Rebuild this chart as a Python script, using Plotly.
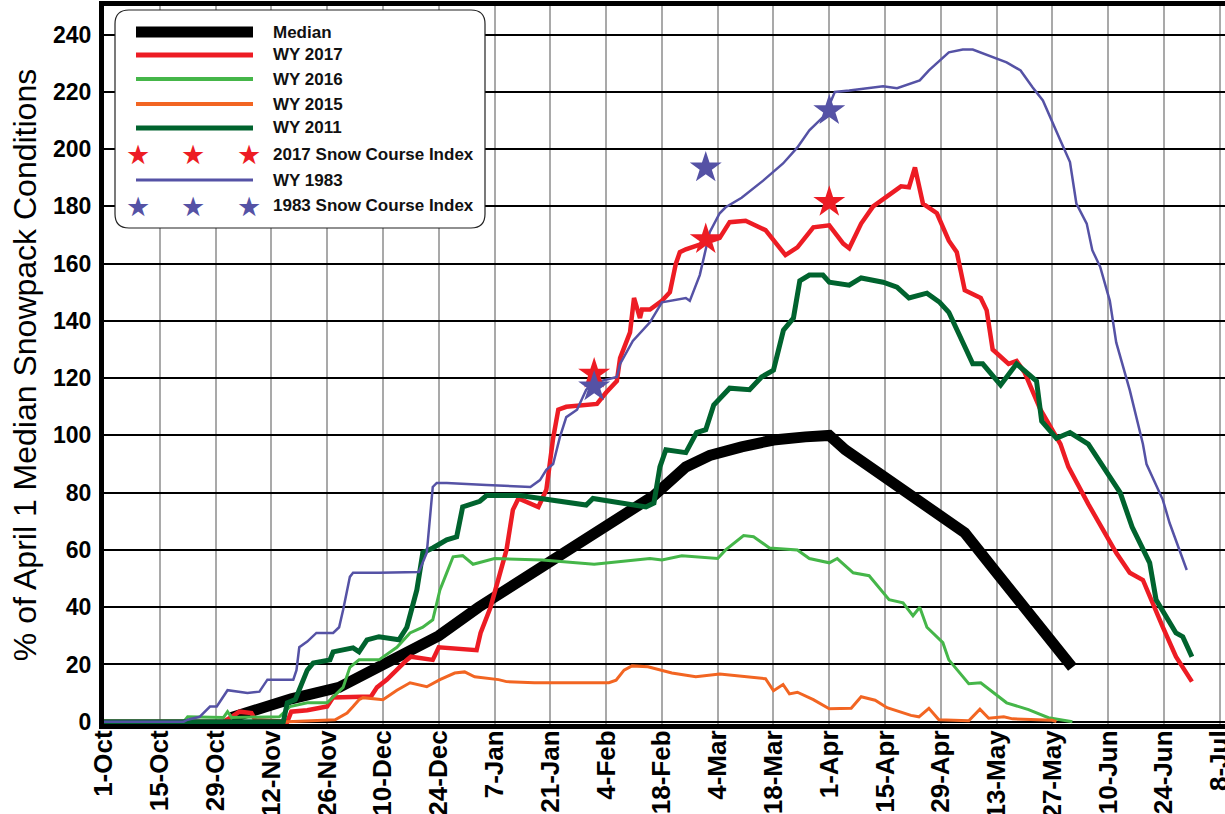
import pandas as pd
import plotly.graph_objects as go

# ---------------- data (day offsets from 1-Oct, % of April 1 median) ----------------
median_day = [32, 40, 47, 59, 71, 84, 94, 105, 116, 129, 138, 146, 152, 160, 168, 176, 182,
              186, 197, 207, 212, 216, 224, 232, 243]
median_val = [1.5, 5, 8, 12, 20.5, 30, 40, 50, 60, 71, 79, 89, 93, 96, 98.4, 99.5, 100,
              95, 84.5, 75, 70.5, 66, 52, 38, 19]

wy2017_day = [0, 30, 32, 34, 37, 38, 46, 47, 51, 56, 57.5, 67, 68.5, 71, 76, 77, 82.5, 84, 93.5,
              94.5, 97, 101, 102.6, 104, 109, 111, 112.7, 114, 116, 123.7, 126, 128.7, 129.5, 131,
              132, 133, 134.5, 135, 137, 140, 142, 143.5, 144.5, 146, 150, 154.5, 157, 161, 166,
              171, 174, 178, 182, 185.5, 187, 190, 193, 197, 200, 202, 203.5, 205.5, 209, 212,
              214, 216, 220, 221.5, 223, 227, 229, 231, 235, 240, 242, 247, 250.6, 254, 257.4,
              260.7, 265.7, 269, 273]
wy2017_val = [0, 0, 1.7, 3.5, 3, 0.5, 0, 3.5, 4, 5.3, 8.5, 8.8, 12, 14.7, 21.6, 22.7, 21.6, 26, 25,
              31, 40, 60, 74, 78, 75, 81, 99, 109, 110, 111, 115, 119, 127, 132,
              136, 148, 141, 144, 144, 147, 150, 160, 164, 165, 167, 169, 174.5, 175, 171.7,
              163, 165.7, 172.7, 173.4, 167, 165.4, 174, 180, 184, 187, 186.7, 193.6, 181, 177.6, 168,
              164, 150.7, 148, 143.7, 130, 125, 126, 122, 109, 97, 89, 76, 67, 59, 52,
              49.5, 33, 22.7, 14]

wy2016_day = [0, 20, 21, 28, 30, 31, 32, 44, 46.7, 51, 56, 58.5, 60, 61.7, 64, 69, 73.5, 76.8, 80,
              82.5, 84.3, 86, 87.6, 90, 92.6, 98, 110, 123, 131, 137, 140, 145, 154, 156, 160.5,
              163, 167, 174, 177, 182, 184, 188, 192, 197, 200.5, 203, 204.7, 206.5, 210.5, 212,
              217, 220, 226.5, 232, 237, 243]
wy2016_val = [0, 0, 1.7, 1.5, 1.5, 3.5, 1.5, 1.7, 5.3, 6.6, 6.6, 10, 12, 19, 21.6, 21.6, 26, 31, 33,
              35.6, 46, 52, 57.6, 58, 55, 57, 56.5, 55, 56, 57, 56.5, 58, 57, 60, 65,
              64.6, 60.7, 60, 57, 55.5, 57, 52, 51, 42.6, 41.5, 37, 40, 33, 27.6, 21.6,
              13.3, 13.6, 6.6, 4.2, 1.4, 0]

wy2015_day = [0, 46, 58, 61, 62.5, 64, 65, 70, 73.5, 76.8, 81, 84.3, 88, 90.5, 93, 95, 99, 101,
              108, 118.7, 126.7, 128.5, 130.5, 132.5, 136.5, 142.5, 148.5, 154.5, 159, 166, 168,
              170.4, 172, 174, 178, 182, 187.5, 190, 193.5, 196.5, 202.5, 204.5, 207, 209.5, 217,
              219.8, 222, 225.8, 228, 238, 239]
wy2015_val = [0, 0, 0.7, 3, 5.3, 7.7, 8.4, 7.7, 11, 13.6, 12.2, 14.7, 17, 17.4, 15.7, 15.3, 14.7, 14,
              13.6, 13.6, 13.6, 14.5, 18, 19.5, 19.2, 17, 15.7, 16.7, 16, 15, 10.8,
              13, 9.7, 10.3, 7.7, 4.5, 4.7, 8.7, 7.5, 4.9, 2.2, 1.7, 4.7, 0.7, 0.3,
              4.4, 1.2, 1.7, 1, 0.5, 0]

wy2011_day = [0, 45, 46, 48, 51, 52.5, 56.7, 57.5, 62.5, 64, 66, 69, 74, 76, 78.5, 80, 82.5, 86,
              88.5, 90, 94.3, 96, 104.4, 112.6, 121, 122.7, 129.5, 136, 138, 139.5, 141, 146,
              148.7, 151, 153, 157, 162, 165, 168, 170.5, 173, 174.6, 177, 180.4, 182, 187, 190,
              195.5, 199, 202, 206.5, 209.7, 212, 215.5, 218, 220.5, 225, 229, 234, 235.3, 239,
              242.4, 247, 255, 258, 262.4, 264, 269, 270.7, 273]
wy2011_val = [0, 0, 6.6, 7.7, 18, 20.5, 21.6, 24.4, 25.8, 24.4, 28.6, 29.7, 28.6, 33, 46, 59, 60.7, 63.5,
              64.6, 75, 77, 79, 79, 77.5, 75.7, 78, 76.4, 75, 76.4, 89, 95, 94,
              101, 102, 110.6, 116.5, 116, 120.4, 122.8, 136.8, 141, 154, 156, 156, 153.5, 152.5, 155,
              153.5, 151.8, 148, 149.7, 146.5, 143, 132, 125, 125, 117.6, 125, 119, 105, 99,
              101, 97, 80, 68, 55.5, 42.6, 31, 29.7, 22.7]

wy1983_day = [0, 20, 21, 24, 26.6, 28.3, 31, 36, 39, 41, 47.5, 48.3, 49, 51, 53.3, 57.5, 59, 60,
              61.7, 62.5, 69, 76, 79, 81, 82.5, 83.5, 86, 96, 107, 109.4, 111, 112.7, 114.4, 116,
              118.7, 121, 122.7, 128.7, 129.5, 132.7, 137, 140, 146, 147, 149.5, 151, 152, 154.5,
              156, 160, 165.4, 170.4, 174, 177, 181, 183.4, 187, 195.5, 199, 204.7, 207, 212,
              215.5, 218, 222, 226.5, 230, 233, 235.6, 238, 240, 242.4, 244, 246.6, 248, 250,
              252.4, 254, 257.4, 260.7, 261.6, 265.7, 267.4, 271.7]
wy1983_val = [0, 0, 0.7, 1.7, 5.3, 5.3, 11, 10, 10.5, 14.7, 14.7, 18, 26, 28, 31, 31, 33, 39,
              50.6, 52, 52, 52.3, 52.3, 59, 82, 83.4, 83.4, 82.7, 82, 84.4, 88, 90, 99.4, 106.4,
              109, 116, 118.3, 120.4, 125, 133, 139.5, 146.5, 148, 147, 156, 165, 171, 177.6,
              179.7, 183, 189, 195, 200.6, 206.6, 212, 220, 220.5, 222, 221.3, 224, 227.5, 233.8,
              234.8, 234.8, 232.7, 230.3, 227.5, 221.6, 217, 209, 203, 195.5, 181, 174, 164.7, 158.8,
              147, 132.5, 115.8, 97, 90, 77.5, 69.4, 53]

sci2017_day = [123, 151, 182]
sci2017_val = [121.5, 168.5, 181.5]
sci1983_day = [123, 151, 182]
sci1983_val = [117, 193.5, 213.5]

tick_labels = ["1-Oct", "15-Oct", "29-Oct", "12-Nov", "26-Nov", "10-Dec", "24-Dec", "7-Jan",
               "21-Jan", "4-Feb", "18-Feb", "4-Mar", "18-Mar", "1-Apr", "15-Apr", "29-Apr",
               "13-May", "27-May", "10-Jun", "24-Jun", "8-Jul"]
y_ticks = [0, 20, 40, 60, 80, 100, 120, 140, 160, 180, 200, 220, 240]

# ---------------- helpers ----------------
base = pd.Timestamp("2016-10-01")


def dates(days):
    return base + pd.to_timedelta(days, unit="D")


RED = "#ed1c24"
LGREEN = "#45b649"
ORANGE = "#f26522"
DGREEN = "#00632e"
PURPLE = "#5552a5"
BLACK = "#000000"

W, H = 1225, 814
ML, MR, MT, MB = 104, 0, 6, 90

fig = go.Figure()

series = [
    ("Median", median_day, median_val, BLACK, 11),
    ("WY 2017", wy2017_day, wy2017_val, RED, 4.5),
    ("WY 2016", wy2016_day, wy2016_val, LGREEN, 3),
    ("WY 2015", wy2015_day, wy2015_val, ORANGE, 3),
    ("WY 2011", wy2011_day, wy2011_val, DGREEN, 5),
    ("WY 1983", wy1983_day, wy1983_val, PURPLE, 2.5),
]
for name, d, v, c, w in series:
    fig.add_trace(go.Scatter(x=dates(d), y=v, mode="lines", name=name,
                             line=dict(color=c, width=w), showlegend=False,
                             hoverinfo="skip"))

fig.add_trace(go.Scatter(x=dates(sci2017_day), y=sci2017_val, mode="markers",
                         name="2017 Snow Course Index", showlegend=False,
                         marker=dict(symbol="star", size=24, color=RED, line=dict(width=0))))
fig.add_trace(go.Scatter(x=dates(sci1983_day), y=sci1983_val, mode="markers",
                         name="1983 Snow Course Index", showlegend=False,
                         marker=dict(symbol="star", size=24, color=PURPLE, line=dict(width=0))))

# ---------------- custom legend (paper coords) ----------------
pw = W - ML - MR
ph = H - MT - MB


def px(xp):
    return (xp - ML) / pw


def py(yp):
    return (H - MB - yp) / ph


x0, x1, y0, y1 = px(115), px(485), py(228), py(10)
rx, ry = 14 / pw, 14 / ph
path = (f"M {x0+rx},{y1} L {x1-rx},{y1} Q {x1},{y1} {x1},{y1-ry} L {x1},{y0+ry} "
        f"Q {x1},{y0} {x1-rx},{y0} L {x0+rx},{y0} Q {x0},{y0} {x0},{y0+ry} "
        f"L {x0},{y1-ry} Q {x0},{y1} {x0+rx},{y1} Z")
shapes = [dict(type="path", xref="paper", yref="paper", path=path,
               line=dict(color="#222222", width=1.2), fillcolor="white", layer="above")]

legend_rows = [
    ("Median", "line", BLACK, 11, 32),
    ("WY 2017", "line", RED, 5, 55),
    ("WY 2016", "line", LGREEN, 4, 79),
    ("WY 2015", "line", ORANGE, 4, 104),
    ("WY 2011", "line", DGREEN, 5, 128),
    ("2017 Snow Course Index", "star", RED, 0, 154),
    ("WY 1983", "line", PURPLE, 3, 180),
    ("1983 Snow Course Index", "star", PURPLE, 0, 205),
]
annotations = []
for label, kind, color, lw, yrow in legend_rows:
    if kind == "line":
        shapes.append(dict(type="line", xref="paper", yref="paper",
                           x0=px(136), x1=px(253), y0=py(yrow), y1=py(yrow),
                           line=dict(color=color, width=lw), layer="above"))
    else:
        for sx in (138, 193, 249):
            annotations.append(dict(x=px(sx), y=py(yrow + 1), xref="paper", yref="paper",
                                    text="★", showarrow=False, xanchor="center",
                                    yanchor="middle",
                                    font=dict(family="DejaVu Sans", size=27, color=color)))
    annotations.append(dict(x=px(271), y=py(yrow), xref="paper", yref="paper",
                            text=label, showarrow=False, xanchor="left", yanchor="middle",
                            font=dict(family="Liberation Sans, Arial", size=17,
                                      color="#111111", weight="bold")))

tickvals = [base + pd.Timedelta(days=14 * i) for i in range(len(tick_labels))]

fig.update_layout(
    width=W, height=H,
    margin=dict(l=ML, r=MR, t=MT, b=MB, autoexpand=False),
    paper_bgcolor="white", plot_bgcolor="white",
    showlegend=False,
    shapes=shapes,
    annotations=annotations,
    xaxis=dict(
        type="date", automargin=False,
        range=[base, base + pd.Timedelta(days=281.3)],
        tickvals=tickvals, ticktext=tick_labels, tickangle=-90,
        tickfont=dict(family="Liberation Sans, Arial", size=26, color="black", weight="bold"),
        showgrid=True, gridcolor="#a9a9a9", gridwidth=2,
        showline=True, linecolor="black", linewidth=5, mirror=True,
        ticks="", ticklabelstandoff=-9, ticklabelshift=0, ticklabeloverflow="allow",
        zeroline=False, layer="below traces",
    ),
    yaxis=dict(
        automargin=False,
        range=[-0.8, 250],
        tickvals=y_ticks,
        tickfont=dict(family="Liberation Sans, Arial", size=23, color="black", weight="bold"),
        showgrid=True, gridcolor="black", gridwidth=2,
        showline=True, linecolor="black", linewidth=5,
        ticks="", ticklabelstandoff=3, zeroline=False, layer="below traces",
        title=dict(text="% of April 1 Median Snowpack Conditions",
                   font=dict(family="Liberation Sans, Arial", size=32, color="black"),
                   standoff=8),
    ),
)

fig.write_html("out.html", config={"displayModeBar": False},
               post_script="document.body.style.margin='0';document.body.style.overflow='hidden';")
